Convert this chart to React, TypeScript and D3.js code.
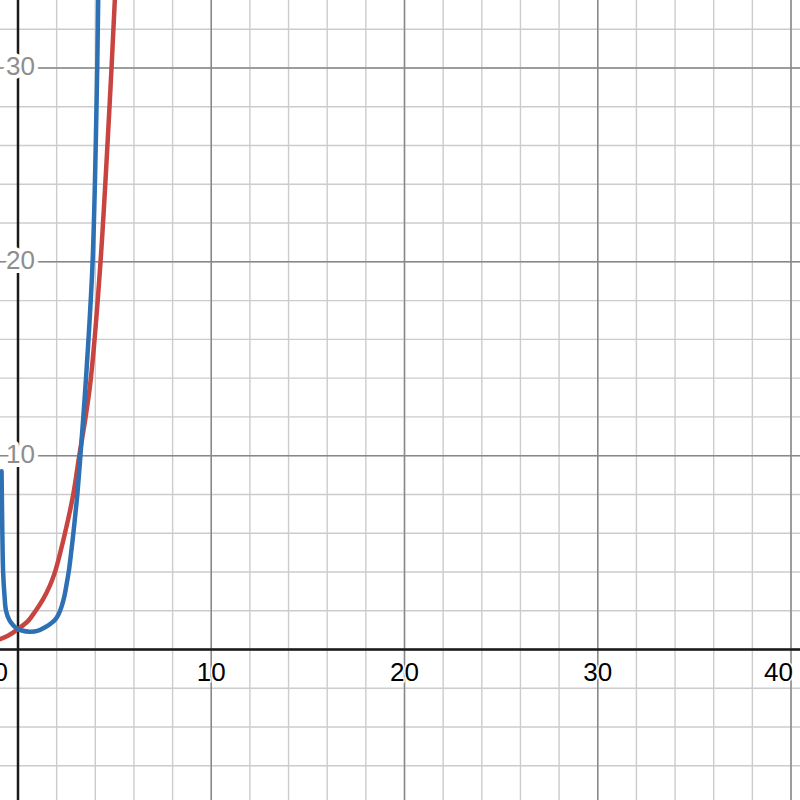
import React from 'react';
import * as d3 from 'd3';

// Curves: [x, y]
const redCurve: [number, number][] = [
	[-0.93, 0.53], [-0.5, 0.72], [0, 1.05], [0.5, 1.45], [0.88, 1.95],
	[1.3, 2.6], [1.65, 3.3], [1.9, 3.95], [2.43, 6.0], [2.86, 8.0],
	[3.17, 10.0], [3.5, 12.0], [3.76, 13.9], [4.27, 20.0], [4.84, 30.0],
	[5.01, 33.5], [5.1, 35.5],
];

const blueCurve: [number, number][] = [
	[-0.85, 9.2], [-0.81, 6.0], [-0.77, 4.0], [-0.7, 2.8], [-0.62, 2.0],
	[-0.45, 1.52], [-0.25, 1.25], [-0.07, 1.09], [0.2, 0.98], [0.62, 0.92],
	[1.0, 0.96], [1.4, 1.15], [1.7, 1.34], [1.93, 1.55], [2.1, 1.82],
	[2.25, 2.2], [2.4, 2.75], [2.52, 3.4], [2.63, 4.05], [2.75, 5.0],
	[2.87, 6.05], [2.97, 7.0], [3.07, 8.0], [3.23, 10.0], [3.38, 12.0],
	[3.52, 14.0], [3.86, 20.0], [4.1, 30.0], [4.15, 33.5], [4.17, 35.0],
];

const xMinor = d3.range(0, 42, 2);
const yMinor = d3.range(-6, 34, 2);
const xMajor = [0, 10, 20, 30, 40];
const yMajor = [0, 10, 20, 30];
const xLabels = [10, 20, 30];
const yLabels = [10, 20, 30];

const W = 800;
const H = 800;
const FONT = "'Liberation Sans', Arial, sans-serif";

const App: React.FC = () => {
	const x = d3.scaleLinear().domain([0, 40]).range([18, 791]);
	const y = d3.scaleLinear().domain([0, 30]).range([649.5, 68]);

	const line = d3
		.line<[number, number]>()
		.x((d) => x(d[0]))
		.y((d) => y(d[1]))
		.curve(d3.curveCatmullRom.alpha(0.5));

	return (
		<svg
			width={W}
			height={H}
			style={{ position: 'absolute', left: 0, top: 0, background: '#fff' }}>
			{/* minor grid */}
			<g stroke="#cccccc" strokeWidth={1.4}>
				{xMinor.map((v) => (
					<line key={'xm' + v} x1={x(v)} x2={x(v)} y1={0} y2={H} />
				))}
				{yMinor.map((v) => (
					<line key={'ym' + v} x1={0} x2={W} y1={y(v)} y2={y(v)} />
				))}
			</g>
			{/* major grid */}
			<g stroke="#888888" strokeWidth={1.5}>
				{xMajor.map((v) => (
					<line key={'xM' + v} x1={x(v)} x2={x(v)} y1={0} y2={H} />
				))}
				{yMajor.map((v) => (
					<line key={'yM' + v} x1={0} x2={W} y1={y(v)} y2={y(v)} />
				))}
			</g>
			{/* axes */}
			<g stroke="#1a1a1a" strokeWidth={2.5}>
				<line x1={0} x2={W} y1={y(0)} y2={y(0)} />
				<line x1={x(0)} x2={x(0)} y1={0} y2={H} />
			</g>
			{/* labels */}
			<g fontFamily={FONT} fontSize={26}>
				{xLabels.map((v) => (
					<text
						key={'xl' + v}
						x={x(v)}
						y={681}
						textAnchor="middle"
						fill="#000"
						stroke="#fff"
						strokeWidth={3}
						paintOrder="stroke">
						{v}
					</text>
				))}
				<text
					x={793}
					y={681}
					textAnchor="end"
					fill="#000"
					stroke="#fff"
					strokeWidth={3}
					paintOrder="stroke">
					40
				</text>
				<text x={8} y={681} textAnchor="end" fill="#000">
					0
				</text>
				{yLabels.map((v) => (
					<text
						key={'yl' + v}
						x={6}
						y={y(v) + 7}
						textAnchor="start"
						fill="#8e8e8e"
						stroke="#fff"
						strokeWidth={8}
						strokeLinejoin="round"
						paintOrder="stroke">
						{v}
					</text>
				))}
			</g>
			{/* curves */}
			<path
				d={line(redCurve) ?? ''}
				fill="none"
				stroke="#c74440"
				strokeWidth={4.5}
				strokeLinecap="round"
				strokeLinejoin="round"
			/>
			<path
				d={line(blueCurve) ?? ''}
				fill="none"
				stroke="#2d70b3"
				strokeWidth={4.5}
				strokeLinecap="round"
				strokeLinejoin="round"
			/>
		</svg>
	);
};

export default App;
